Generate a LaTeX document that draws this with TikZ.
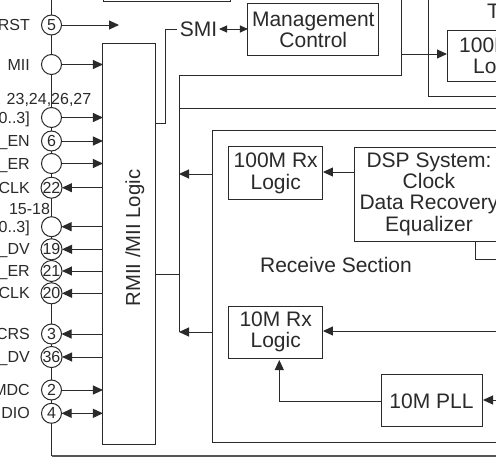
\documentclass[tikz,border=0pt]{standalone}
\usepackage{fontspec}
\setmainfont{Liberation Sans}
\usetikzlibrary{arrows.meta,calc}
\definecolor{ink}{HTML}{2A2A2A}
\tikzset{
  x=1pt,y=-1pt,
  every node/.style={text=ink},
  wire/.style={draw=ink,line width=1pt},
  sig/.style={wire,-{Triangle[length=10pt,width=9pt]}},
  bisig/.style={wire,{Triangle[length=10pt,width=9pt]}-{Triangle[length=10pt,width=9pt]}},
  smallbi/.style={wire,{Triangle[length=8pt,width=7pt]}-{Triangle[length=8pt,width=7pt]}},
  box/.style={draw=ink,line width=1pt,fill=white,inner sep=0pt,outer sep=0pt,align=center,font=\fontsize{21}{21.3}\selectfont},
  pin/.style={circle,draw=ink,line width=1pt,fill=white,minimum size=20pt,inner sep=0pt,outer sep=0pt,font=\fontsize{16}{16}\selectfont},
  pinlab/.style={anchor=base east,inner sep=0pt,font=\fontsize{16}{16}\selectfont},
  pinnum/.style={anchor=base,inner sep=0pt,font=\fontsize{16}{16}\selectfont},
  blocklab/.style={inner sep=0pt,font=\fontsize{21}{21.3}\selectfont},
}
\begin{document}
\begin{tikzpicture}
\useasboundingbox (0,0) rectangle (496,469);
\clip (0,0) rectangle (496,469);
\fill[white] (0,0) rectangle (496,469);
% free ends
\coordinate (pintop) at (51.5,-2);
\coordinate (corner) at (51.5,456);
\coordinate (rightend) at (498,456);
\coordinate (rstend) at (119,25);
\coordinate (trunktop) at (179,75);
\coordinate (trunkbot) at (179,332);
\coordinate (toptrunk) at (401,-2);
\coordinate (txtop) at (428.7,-2);
\coordinate (txcorner) at (428.7,96);
\coordinate (txright) at (498,96);
\coordinate (midright) at (498,108);
\coordinate (dspright) at (498,259.5);
\coordinate (rxin) at (498,331);
\coordinate (pllin) at (498,400);
% spine
\draw[wire] (pintop) -- (corner);
\draw[draw=ink!80,line width=2pt] (corner) -- (rightend);
% blocks
\node[box,minimum width=127pt,minimum height=44pt] (top) at (166.5,-20.5) {};
\node[box,minimum width=130.7pt,minimum height=51.5pt] (mgmt) at (313.3,29.7) {Management\\Control};
\node[box,minimum width=52.5pt,minimum height=401pt] (rmii) at (129.2,243.5) {};
\node[blocklab,rotate=90,anchor=base,font=\fontsize{20.3}{21}\selectfont] (rmiilab) at (140,238) {RMII /MII Logic};
\node[box,minimum width=106pt,minimum height=51pt] (tx) at (500,55.5) {};
\node[box,minimum width=307.5pt,minimum height=312.2pt] (rxsec) at (366.2,286.6) {};
\node[box,minimum width=94.5pt,minimum height=52.5pt] (rx100) at (275.7,173.2) {100M Rx\\Logic};
\node[box,minimum width=149pt,minimum height=94pt] (dsp) at (429,194) {DSP System:\\Clock\\Data Recovery\\Equalizer};
\node[box,minimum width=94.5pt,minimum height=52pt] (rx10) at (275.7,332) {10M Rx\\Logic};
\node[box,minimum width=101pt,minimum height=52.3pt] (pll) at (431.5,400.8) {10M PLL};
% block labels
\node[blocklab,anchor=base west] (txa) at (459,52.5) {100M};
\node[blocklab,anchor=base west] (txb) at (473,73.5) {Lo};
\node[blocklab,anchor=base west] (txsec) at (487,18) {T};
\node[blocklab,anchor=base] (recv) at (336,272.7) {Receive Section};
\node[blocklab,anchor=base] (smi) at (198.5,36.5) {SMI};
% top/right connectors
\draw[wire] (177,29) -| (165,123) -- (rmii.east |- 0,123);
\draw[smallbi] (219,29) -- (mgmt.west |- 0,29);
\draw[wire] (toptrunk) |- (trunktop) -- (trunkbot);
\draw[wire] (rmii.east |- 0,274) -- (179,274);
\draw[sig] (401,54) -- (tx.west |- 0,54);
\draw[wire] (txtop) -- (txcorner) -- (txright);
\draw[wire] (179,108) -- (midright);
\draw[sig] (rxsec.west |- 0,174) -- (179,174);
\draw[sig] (rxsec.west |- trunkbot) -- (trunkbot);
\draw[sig] (dsp.west |- 0,172) -- (rx100.east |- 0,172);
\draw[wire] (475.7,241) |- (dspright);
\draw[sig] (rxin) -- (rx10.east |- rxin);
\draw[sig] (pllin) -- ([xshift=1pt]pll.east |- pllin);
\draw[sig] (pll.west |- 0,401) -| (279.3,360);
% pins
\node[pin] (p5) at (51.5,25) {5};
\node[pin] (pmii) at (51.5,64.5) {};
\node[pin] (ptxd) at (51.5,117.5) {};
\node[pin] (p6) at (51.5,141) {6};
\node[pin] (ptxer) at (51.5,163.5) {};
\node[pin] (p22) at (51.5,187.7) {22};
\node[pin] (prxd) at (51.5,226.7) {};
\node[pin] (p19) at (51.5,249.3) {19};
\node[pin] (p21) at (51.5,271) {21};
\node[pin] (p20) at (51.5,293.3) {20};
\node[pin] (p3) at (51.5,334) {3};
\node[pin] (p36) at (51.5,357) {36};
\node[pin] (p2) at (51.5,390) {2};
\node[pin] (p4) at (51.5,413.3) {4};
% pin connectors
\draw[sig] (p5.east) -- (rstend);
\foreach \p in {pmii,ptxd,p6,ptxer,p2}{\draw[sig] (\p.east) -- (rmii.west |- \p.east);}
\foreach \p in {p22,prxd,p19,p21,p20,p3,p36}{\draw[sig] (rmii.west |- \p.east) -- (\p.east);}
\draw[bisig] (p4.east) -- (rmii.west |- p4.east);
% pin labels
\node[pinlab] at (30,30.5) {RST};
\node[pinlab] at (30,70) {MII};
\node[pinnum] at (49,104) {23,24,26,27};
\node[pinlab] at (30,123) {0..3]};
\node[pinlab] at (30,146.5) {\_EN};
\node[pinlab] at (30,169) {\_ER};
\node[pinlab] at (30,193.2) {CLK};
\node[pinnum] at (29.5,214) {15-18};
\node[pinlab] at (30,232.2) {0..3]};
\node[pinlab] at (30,254.8) {\_DV};
\node[pinlab] at (30,276.5) {\_ER};
\node[pinlab] at (30,298.8) {CLK};
\node[pinlab] at (30,339.5) {CRS};
\node[pinlab] at (30,362.5) {\_DV};
\node[pinlab] at (30,395.5) {MDC};
\node[pinlab] at (30,418.8) {DIO};
\end{tikzpicture}
\end{document}
